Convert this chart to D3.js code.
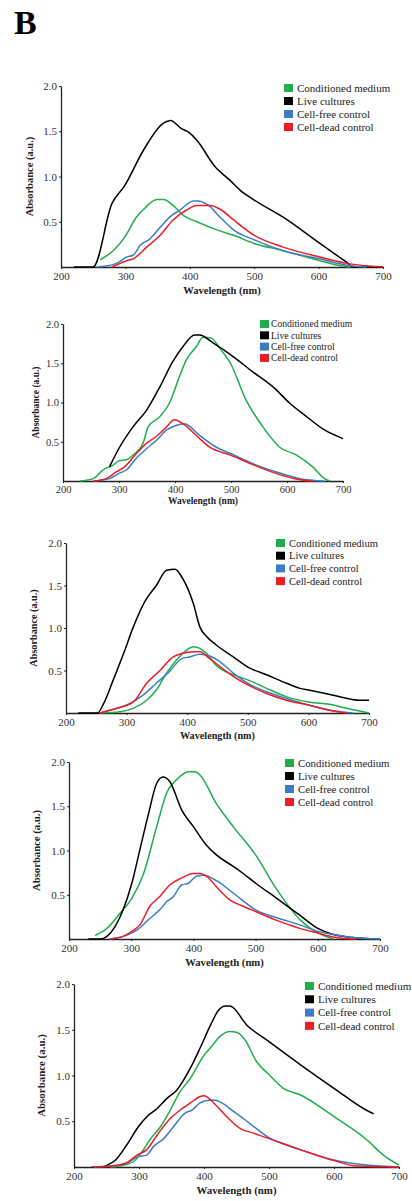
<!DOCTYPE html>
<html>
<head>
<meta charset="utf-8">
<script src="https://cdn.jsdelivr.net/npm/d3@7"></script>
<style>
  body { margin: 0; background: #fff; }
  svg { display: block; }
  .tick text { font-family: "Liberation Serif", serif; fill: #333; }
  .axis path, .axis line { stroke: #222; }
</style>
</head>
<body>
<div id="chart-area"></div>
<script>
//1. Data (wavelength nm, absorbance a.u.)
var seriesNames = ["Conditioned medium", "Live cultures", "Cell-free control", "Cell-dead control"];
var seriesColors = ["#1fae4b", "#000000", "#3b7cc4", "#ee1c24"];
var xTicks = [200, 300, 400, 500, 600, 700];
var yTicks = [0.5, 1.0, 1.5, 2.0];

// panel 1
var p1Green = [[261,0.08],[281,0.18],[299,0.33],[317,0.55],[330,0.65],[349,0.745],[359,0.745],[374,0.68],[390,0.57],[411,0.5],[442,0.41],[468,0.35],[500,0.26],[545,0.18],[571,0.13],[602,0.07],[630,0.02],[649,0]];
var p1Black = [[220,0],[250,0],[279,0.7],[299,0.9],[328,1.29],[359,1.59],[370,1.62],[387,1.53],[400,1.48],[411,1.4],[439,1.11],[462,0.96],[478,0.85],[500,0.74],[545,0.55],[602,0.26],[644,0.05],[654,0],[700,0]];
var p1Blue = [[255,0],[270,0.01],[286,0.04],[302,0.11],[312,0.13],[323,0.24],[338,0.31],[354,0.44],[372,0.57],[385,0.63],[395,0.69],[405,0.73],[413,0.73],[429,0.68],[447,0.55],[468,0.41],[500,0.3],[545,0.18],[602,0.09],[644,0.02],[675,0]];
var p1Red = [[279,0],[302,0.07],[312,0.09],[333,0.22],[354,0.35],[374,0.52],[395,0.63],[411,0.68],[431,0.68],[449,0.63],[468,0.52],[500,0.35],[545,0.22],[602,0.11],[644,0.04],[700,0]];

// panel 2
var p2Green = [[230,0],[254,0.03],[271,0.14],[289,0.2],[301,0.26],[313,0.27],[325,0.33],[343,0.48],[352,0.69],[373,0.82],[390,0.99],[408,1.33],[420,1.54],[438,1.71],[450,1.83],[465,1.82],[480,1.69],[499,1.5],[527,1.03],[557,0.69],[587,0.43],[617,0.33],[646,0.18],[667,0.03],[676,0]];
var p2Black = [[283,0.18],[301,0.43],[325,0.69],[349,0.9],[373,1.2],[396,1.52],[414,1.71],[435,1.86],[444,1.86],[468,1.76],[499,1.61],[539,1.39],[578,1.18],[605,0.99],[635,0.82],[667,0.65],[700,0.54]];
var p2Blue = [[254,0],[283,0.03],[301,0.1],[313,0.14],[331,0.29],[349,0.41],[367,0.52],[385,0.65],[399,0.7],[417,0.73],[444,0.58],[474,0.43],[499,0.35],[539,0.22],[581,0.115],[623,0.03],[667,0]];
var p2Red = [[254,0],[277,0.03],[295,0.115],[310,0.18],[331,0.35],[349,0.48],[367,0.57],[385,0.69],[399,0.78],[414,0.73],[438,0.58],[462,0.43],[499,0.33],[539,0.21],[581,0.094],[623,0.017],[646,0]];

// panel 3
var p3Green = [[256,0],[289,0.016],[311,0.055],[333,0.15],[349,0.27],[366,0.47],[382,0.62],[399,0.74],[410,0.78],[421,0.76],[432,0.7],[448,0.56],[476,0.45],[500,0.39],[531,0.29],[564,0.19],[600,0.13],[641,0.094],[663,0.055],[700,0]];
var p3Black = [[220,0],[252,0],[262,0.11],[278,0.39],[295,0.7],[311,1.01],[330,1.31],[349,1.5],[366,1.68],[380,1.69],[391,1.6],[410,1.29],[421,1.01],[432,0.9],[448,0.8],[476,0.66],[500,0.54],[531,0.45],[564,0.35],[586,0.29],[600,0.27],[641,0.21],[685,0.15],[700,0.15]];
var p3Blue = [[256,0],[284,0.055],[305,0.11],[327,0.21],[349,0.35],[371,0.49],[391,0.64],[404,0.66],[421,0.69],[437,0.67],[451,0.62],[476,0.47],[500,0.35],[531,0.25],[564,0.17],[600,0.094],[641,0.027],[674,0]];
var p3Red = [[256,0],[284,0.055],[311,0.13],[333,0.35],[355,0.5],[377,0.66],[391,0.7],[410,0.72],[421,0.72],[437,0.64],[459,0.52],[476,0.43],[500,0.33],[531,0.23],[564,0.15],[600,0.094],[641,0.023],[663,0]];

// panel 4
var p4Green = [[242,0.04],[261,0.12],[282,0.29],[301,0.46],[320,0.74],[341,1.27],[357,1.65],[373,1.8],[392,1.89],[403,1.89],[411,1.85],[437,1.53],[464,1.27],[500,0.95],[534,0.56],[571,0.22],[600,0.07],[625,0]];
var p4Black = [[231,0],[250,0],[261,0.03],[274,0.14],[287,0.33],[301,0.63],[314,1.01],[328,1.42],[341,1.76],[351,1.83],[362,1.78],[381,1.46],[400,1.27],[421,1.06],[437,0.95],[464,0.82],[480,0.74],[500,0.63],[534,0.46],[571,0.27],[600,0.12],[625,0.05],[652,0.02],[700,0]];
var p4Blue = [[266,0],[287,0.03],[301,0.07],[311,0.11],[328,0.22],[346,0.33],[357,0.42],[368,0.48],[381,0.61],[392,0.63],[405,0.71],[416,0.72],[437,0.66],[464,0.52],[500,0.33],[534,0.24],[571,0.16],[600,0.086],[625,0.05],[652,0.02],[700,0]];
var p4Red = [[266,0],[287,0.03],[301,0.086],[314,0.16],[330,0.37],[346,0.48],[362,0.61],[381,0.69],[400,0.74],[411,0.74],[421,0.71],[437,0.59],[459,0.44],[480,0.37],[500,0.31],[534,0.21],[571,0.12],[600,0.068],[625,0.023],[662,0]];

// panel 5
var p5Green = [[256,0],[276,0.02],[292,0.06],[305,0.17],[317,0.3],[333,0.44],[348,0.62],[363,0.82],[379,0.97],[399,1.21],[412,1.32],[425,1.43],[440,1.48],[451,1.47],[463,1.39],[481,1.15],[500,1.01],[522,0.86],[548,0.79],[600,0.55],[650,0.3],[676,0.13],[700,0.02]];
var p5Black = [[228,0],[243,0],[251,0.02],[264,0.077],[281,0.24],[299,0.44],[312,0.55],[328,0.64],[343,0.75],[358,0.84],[379,1.08],[394,1.3],[410,1.55],[422,1.71],[433,1.76],[440,1.76],[466,1.55],[500,1.37],[548,1.12],[600,0.86],[650,0.62],[661,0.58]];
var p5Blue = [[230,0],[256,0.01],[281,0.04],[297,0.11],[312,0.13],[322,0.22],[338,0.31],[353,0.44],[371,0.59],[381,0.62],[394,0.7],[407,0.73],[417,0.73],[430,0.69],[445,0.61],[466,0.5],[500,0.32],[548,0.19],[600,0.077],[650,0.022],[700,0]];
var p5Red = [[230,0],[256,0.01],[281,0.047],[297,0.13],[312,0.19],[328,0.35],[348,0.53],[363,0.62],[379,0.7],[394,0.77],[400,0.78],[415,0.7],[435,0.55],[456,0.42],[476,0.37],[500,0.31],[548,0.19],[600,0.07],[635,0.01],[700,0]];

var panelSeries = [
    [p1Green, p1Black, p1Blue, p1Red],
    [p2Green, p2Black, p2Blue, p2Red],
    [p3Green, p3Black, p3Blue, p3Red],
    [p4Green, p4Black, p4Blue, p4Red],
    [p5Green, p5Black, p5Blue, p5Red]
];

//2. Layout of each panel (pixel positions)
var panelLayout = [
    { x0: 61, x1: 383, yTop: 86, yBot: 267, legX: 284, legY: 88, legStep: 13, tickFs: 11, legFs: 11, labFs: 10.5, yLabX: 29, xLabY: 294 },
    { x0: 63, x1: 343, yTop: 324, yBot: 481, legX: 260, legY: 324, legStep: 11.3, tickFs: 10.5, legFs: 9.6, labFs: 9.5, yLabX: 36, xLabY: 504 },
    { x0: 66, x1: 369, yTop: 543, yBot: 713, legX: 276, legY: 543, legStep: 12.7, tickFs: 11, legFs: 10.5, labFs: 10.2, yLabX: 33, xLabY: 739 },
    { x0: 69, x1: 380, yTop: 762, yBot: 939, legX: 285, legY: 763, legStep: 13, tickFs: 11, legFs: 10.8, labFs: 10.7, yLabX: 36, xLabY: 966 },
    { x0: 74, x1: 399, yTop: 984, yBot: 1167, legX: 305, legY: 986, legStep: 13.3, tickFs: 11, legFs: 11, labFs: 10.9, yLabX: 41, xLabY: 1194 }
];

var svg_width = 412;
var svg_height = 1201;

var svg = d3.select("#chart-area").append("svg")
    .attr("width", svg_width)
    .attr("height", svg_height);

// Panel letter
svg.append("text")
    .attr("x", 14)
    .attr("y", 34)
    .attr("font-family", "Liberation Serif, serif")
    .attr("font-weight", "bold")
    .attr("font-size", "34px")
    .text("B");

//3. Drawing each panel
panelLayout.forEach(function (lay, p) {
    var g = svg.append("g").attr("class", "panel");

    var x_scaling = d3.scaleLinear().domain([200, 700]).range([lay.x0, lay.x1]);
    var y_scaling = d3.scaleLinear().domain([0, 2]).range([lay.yBot, lay.yTop]);

    // x axis
    g.append("g")
        .attr("class", "axis")
        .attr("transform", "translate(0," + lay.yBot + ")")
        .call(d3.axisBottom(x_scaling).tickValues(xTicks).tickSize(2).tickSizeOuter(0).tickPadding(3))
        .call(function (a) {
            a.selectAll("text").attr("font-size", lay.tickFs + "px").attr("font-family", "Liberation Serif, serif");
            a.select(".domain").attr("stroke-width", 1.3);
        });

    // y axis
    g.append("g")
        .attr("class", "axis")
        .attr("transform", "translate(" + lay.x0 + ",0)")
        .call(d3.axisLeft(y_scaling).tickValues(yTicks).tickFormat(d3.format(".1f")).tickSize(2).tickSizeOuter(0).tickPadding(2))
        .call(function (a) {
            a.selectAll("text").attr("font-size", lay.tickFs + "px").attr("font-family", "Liberation Serif, serif");
            a.select(".domain").attr("stroke-width", 1.3);
        });

    // axis labels
    g.append("text")
        .attr("x", (lay.x0 + lay.x1) / 2)
        .attr("y", lay.xLabY)
        .attr("text-anchor", "middle")
        .attr("font-family", "Liberation Serif, serif")
        .attr("font-weight", "bold")
        .attr("font-size", lay.labFs + "px")
        .attr("fill", "#222")
        .text("Wavelength (nm)");

    g.append("text")
        .attr("transform", "translate(" + lay.yLabX + "," + ((lay.yTop + lay.yBot) / 2) + ") rotate(-90)")
        .attr("text-anchor", "middle")
        .attr("dy", "0.35em")
        .attr("font-family", "Liberation Serif, serif")
        .attr("font-weight", "bold")
        .attr("font-size", lay.labFs + "px")
        .attr("fill", "#222")
        .text("Absorbance (a.u.)");

    // lines
    var line = d3.line()
        .x(function (d) { return x_scaling(d[0]); })
        .y(function (d) { return y_scaling(d[1]); })
        .curve(d3.curveMonotoneX);

    panelSeries[p].forEach(function (s, i) {
        g.append("path")
            .datum(s)
            .attr("fill", "none")
            .attr("stroke", seriesColors[i])
            .attr("stroke-width", 1.5)
            .attr("stroke-linejoin", "round")
            .attr("d", line);
    });

    // legend
    var legend = g.append("g")
        .attr("transform", "translate(" + lay.legX + "," + lay.legY + ")");
    seriesNames.forEach(function (name, i) {
        var row = legend.append("g").attr("transform", "translate(0," + (i * lay.legStep) + ")");
        row.append("rect")
            .attr("x", 0)
            .attr("y", -4)
            .attr("width", 9)
            .attr("height", 8)
            .attr("fill", seriesColors[i]);
        row.append("text")
            .attr("x", lay.legX < 270 ? 11 : 13)
            .attr("y", 0)
            .attr("dy", "0.35em")
            .attr("font-family", "Liberation Serif, serif")
            .attr("font-size", lay.legFs + "px")
            .attr("fill", "#222")
            .text(name);
    });
});
</script>
</body>
</html>
